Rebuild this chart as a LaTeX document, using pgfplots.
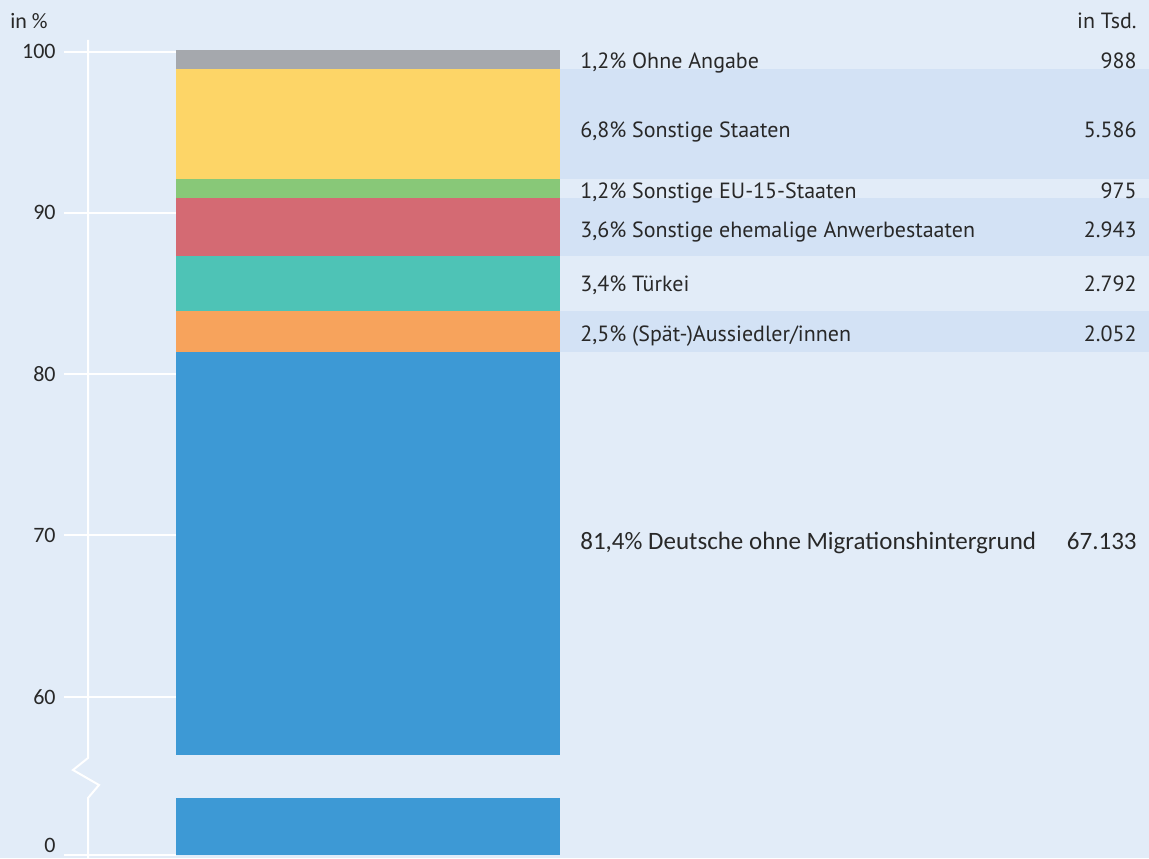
\documentclass[border=0pt]{standalone}
\usepackage{fontspec}
\setmainfont{PT Sans}
\newfontfamily\frut{Carlito}
\usepackage{pgfplots}
\pgfplotsset{compat=1.18}
\definecolor{bg}{RGB}{226,236,248}
\definecolor{band}{RGB}{211,226,245}
\definecolor{cgray}{RGB}{165,168,173}
\definecolor{cyellow}{RGB}{253,213,103}
\definecolor{cgreen}{RGB}{136,200,120}
\definecolor{cred}{RGB}{212,106,115}
\definecolor{cteal}{RGB}{78,195,182}
\definecolor{corange}{RGB}{247,163,92}
\definecolor{cblue}{RGB}{61,153,213}
\definecolor{txt}{RGB}{40,40,40}
\pgfplotsset{
  common/.style={
    scale only axis, width=192pt,
    xmin=-0.5, xmax=0.5,
    anchor=south west,
    axis line style={draw=none},
    xtick=\empty, ytick pos=left,
    tick align=outside, major tick length=56pt,
    major tick style={white, line width=1pt},
    /pgf/number format/assume math mode=true,
    yticklabel style={font=\frut\fontsize{11}{13}\selectfont, text=txt, inner sep=1pt, xshift=-3pt},
  },
}
\begin{document}
\begin{tikzpicture}
\fill[bg] (0,0) rectangle (574.5pt,429pt);
% upper part
\begin{axis}[common,
  at={(88pt,51.65pt)}, height=352.35pt,
  ymin=56.4, ymax=100.1,
  ytick={60,70,80,90,100},
  ybar stacked, bar width=192pt, bar shift=0pt]
\addplot[fill=cblue, draw=none] coordinates {(0,81.4)};
\addplot[fill=corange, draw=none] coordinates {(0,2.5)};
\addplot[fill=cteal, draw=none] coordinates {(0,3.4)};
\addplot[fill=cred, draw=none] coordinates {(0,3.6)};
\addplot[fill=cgreen, draw=none] coordinates {(0,1.2)};
\addplot[fill=cyellow, draw=none] coordinates {(0,6.8)};
\addplot[fill=cgray, draw=none] coordinates {(0,1.2)};
\end{axis}
% annotations
\begin{axis}[common,
  at={(88pt,51.65pt)}, height=352.35pt,
  ymin=56.4, ymax=100.1, clip=false, ytick=\empty,
  nodes={text=txt, inner sep=0pt, yshift=-1.75pt, font=\fontsize{11}{13}\selectfont}]
\fill[band] (axis cs:0.5,92.1) rectangle (axis cs:2.05,98.9);
\fill[band] (axis cs:0.5,87.3) rectangle (axis cs:2.05,90.9);
\fill[band] (axis cs:0.5,81.4) rectangle (axis cs:2.05,83.9);
\node[anchor=mid west] at (axis cs:0.552,99.48) {1,2\% Ohne Angabe};
\node[anchor=mid east] at (axis cs:2.0026,99.48) {988};
\node[anchor=mid west] at (axis cs:0.552,95.2) {6,8\% Sonstige Staaten};
\node[anchor=mid east] at (axis cs:2.0026,95.2) {5.586};
\node[anchor=mid west] at (axis cs:0.552,91.42) {1,2\% Sonstige EU-15-Staaten};
\node[anchor=mid east] at (axis cs:2.0026,91.42) {975};
\node[anchor=mid west] at (axis cs:0.552,89.0) {3,6\% Sonstige ehemalige Anwerbestaaten};
\node[anchor=mid east] at (axis cs:2.0026,89.0) {2.943};
\node[anchor=mid west] at (axis cs:0.552,85.65) {3,4\% Türkei};
\node[anchor=mid east] at (axis cs:2.0026,85.65) {2.792};
\node[anchor=mid west] at (axis cs:0.552,82.55) {2,5\% (Spät-)Aussiedler/innen};
\node[anchor=mid east] at (axis cs:2.0026,82.55) {2.052};
\node[anchor=mid west, font=\frut\fontsize{12.5}{15}\selectfont] at (axis cs:0.552,69.65) {81,4\% Deutsche ohne Migrationshintergrund};
\node[anchor=mid east, font=\frut\fontsize{12.5}{15}\selectfont] at (axis cs:2.0026,69.65) {67.133};
\end{axis}
% lower part
\begin{axis}[common,
  at={(88pt,1.5pt)}, height=28.5pt,
  ymin=0, ymax=3.5, ytick={0},
  yticklabel style={yshift=5pt},
  ybar, bar width=192pt, bar shift=0pt]
\addplot[fill=cblue, draw=none] coordinates {(0,81.4)};
\end{axis}
\draw[white, line width=1pt, line join=miter] (44pt,409pt) -- (44pt,50pt) -- (36.5pt,44pt) -- (49.5pt,36.5pt) -- (44pt,30pt) -- (44pt,0pt);
\node[anchor=mid west, text=txt, inner sep=0pt, font=\frut\fontsize{11}{13}\selectfont] at (5pt,417pt) {in \%};
\node[anchor=mid east, text=txt, inner sep=0pt, font=\fontsize{11}{13}\selectfont] at (568.5pt,417pt) {in Tsd.};
\pgfresetboundingbox
\path (0,0) rectangle (574.5pt,429pt);
\end{tikzpicture}
\end{document}
